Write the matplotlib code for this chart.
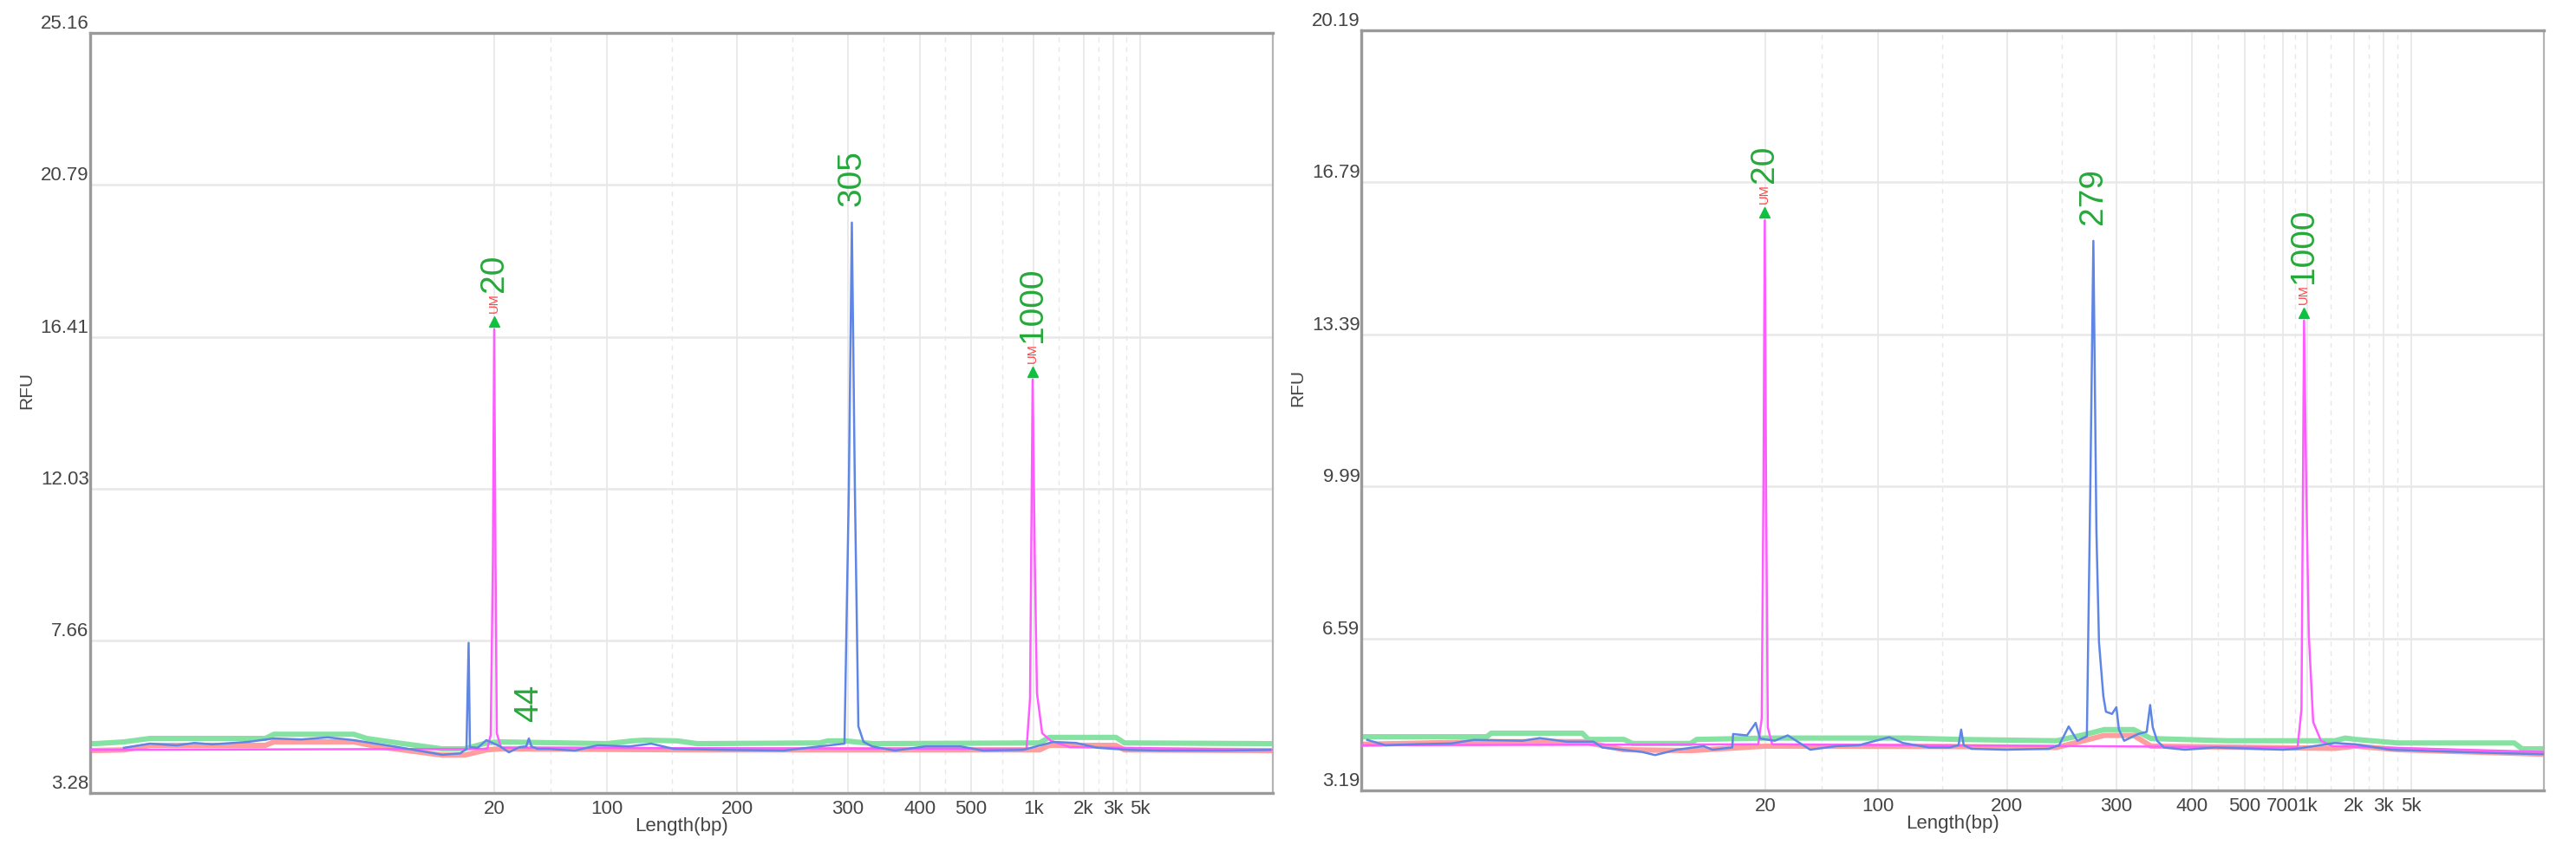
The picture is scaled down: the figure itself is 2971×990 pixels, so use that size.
#!/usr/bin/env python3
"""Capillary electropherograms (sample vs. marker), two runs side by side."""
import numpy as np
import matplotlib
matplotlib.use('Agg')
import matplotlib.pyplot as plt
from matplotlib.transforms import offset_copy

plt.rcParams['font.family'] = ['Liberation Sans', 'DejaVu Sans']

# ---- size ladder on the migration axis (scan units 0..1364) ----
L_tick_pos = [466, 596, 746, 874, 957, 1016, 1088, 1146, 1180, 1211]
L_tick_lab = ['20', '100', '200', '300', '400', '500', '1k', '2k', '3k', '5k']
R_tick_pos = [466, 596, 745, 871, 958, 1019, 1063, 1091, 1145, 1179, 1211]
R_tick_lab = ['20', '100', '200', '300', '400', '500', '700', '1k', '2k', '3k', '5k']

L_yticks = [3.28, 7.66, 12.03, 16.41, 20.79, 25.16]
R_yticks = [3.19, 6.59, 9.99, 13.39, 16.79, 20.19]

# ---- left run ----
L_green_x = [0, 6, 39, 69, 202, 212, 304, 319, 355, 406, 432, 457, 473, 596, 626,
             640, 677, 700, 841, 851, 871, 902, 1095, 1106, 1183, 1193, 1364]
L_green_y = [4.70, 4.70, 4.75, 4.85, 4.85, 4.97, 4.97, 4.85, 4.72, 4.55, 4.55, 4.72,
             4.75, 4.70, 4.78, 4.80, 4.78, 4.70, 4.72, 4.78, 4.78, 4.70, 4.72, 4.88,
             4.88, 4.72, 4.70]
L_red_x = [0, 39, 69, 202, 212, 304, 330, 406, 432, 457, 473, 700, 1095, 1106, 1183,
           1193, 1364]
L_red_y = [4.50, 4.52, 4.65, 4.65, 4.75, 4.75, 4.62, 4.37, 4.37, 4.52, 4.55, 4.52,
           4.52, 4.65, 4.65, 4.52, 4.50]
L_blue_x = [39, 69, 100, 120, 141, 182, 212, 243, 274, 304, 355, 406, 427, 434, 436.5,
            438, 447, 457, 473, 483, 495, 503, 506, 509, 516, 529, 559, 585, 622, 647,
            673, 734, 800, 841, 870, 875, 878.5, 882, 886, 892, 902, 928, 963, 1004,
            1030, 1076, 1111, 1137, 1162, 1198, 1234, 1310, 1361]
L_blue_y = [4.58, 4.70, 4.65, 4.72, 4.68, 4.75, 4.85, 4.82, 4.88, 4.80, 4.60, 4.38,
            4.42, 4.55, 7.60, 4.60, 4.58, 4.80, 4.62, 4.45, 4.60, 4.62, 4.85, 4.62,
            4.55, 4.55, 4.50, 4.65, 4.62, 4.70, 4.55, 4.52, 4.50, 4.62, 4.70, 12.0,
            19.70, 12.0, 5.20, 4.75, 4.62, 4.50, 4.62, 4.62, 4.50, 4.52, 4.75, 4.72,
            4.58, 4.52, 4.50, 4.50, 4.52]
L_pink_x = [0, 458, 462, 464.5, 466, 467.5, 469, 474, 1080, 1084, 1087, 1089.5,
            1092, 1098, 1108, 1130, 1364]
L_pink_y = [4.52, 4.55, 4.95, 10.0, 16.63, 10.0, 5.00, 4.58, 4.55, 6.0, 15.18, 10.0,
            6.15, 5.00, 4.78, 4.60, 4.52]
L_peak_x = [466, 878.5, 506, 1087]
L_peak_y = [16.63, 19.70, 4.85, 15.18]
L_peak_lab = ['20', '305', '44', '1000']
L_peak_marker = [True, False, False, True]

# ---- right run ----
R_green_x = [0, 145, 150, 255, 262, 303, 313, 380, 387, 466, 630, 690, 802, 837, 857,
             891, 911, 999, 1123, 1135, 1147, 1196, 1330, 1339, 1364]
R_green_y = [4.39, 4.39, 4.47, 4.47, 4.33, 4.33, 4.24, 4.24, 4.33, 4.36, 4.36, 4.33,
             4.30, 4.45, 4.55, 4.55, 4.35, 4.30, 4.30, 4.36, 4.33, 4.25, 4.25, 4.12,
             4.12]
R_red_x = [0, 150, 255, 303, 380, 466, 690, 802, 837, 857, 891, 911, 1123, 1147, 1196,
           1364]
R_red_y = [4.22, 4.28, 4.28, 4.10, 4.08, 4.18, 4.17, 4.15, 4.32, 4.42, 4.42, 4.18,
           4.13, 4.18, 4.10, 4.00]
R_blue_x = [7, 28, 58, 104, 130, 186, 206, 237, 268, 278, 324, 339, 364, 395, 405,
            428, 429, 445, 455, 460, 477, 492, 518, 548, 574, 609, 625, 655, 679, 689,
            692, 695, 704, 743, 793, 805, 816, 826, 837, 841, 844.5, 848, 851, 856, 859,
            866, 871, 874, 880, 896, 906, 910, 913, 918, 926, 950, 985, 1063, 1078,
            1123, 1147, 1187, 1265, 1320, 1364]
R_blue_y = [4.32, 4.20, 4.22, 4.24, 4.32, 4.30, 4.36, 4.28, 4.28, 4.15, 4.05, 3.98,
            4.10, 4.18, 4.10, 4.15, 4.45, 4.42, 4.70, 4.35, 4.30, 4.42, 4.10, 4.18,
            4.20, 4.38, 4.25, 4.15, 4.15, 4.20, 4.55, 4.20, 4.12, 4.10, 4.12, 4.20,
            4.62, 4.30, 4.40, 10.0, 15.48, 9.0, 6.50, 5.30, 4.95, 4.90, 5.05, 4.55,
            4.30, 4.45, 4.50, 5.10, 4.60, 4.30, 4.15, 4.10, 4.15, 4.10, 4.12, 4.25,
            4.22, 4.10, 4.05, 4.02, 4.00]
R_pink_x = [0, 458, 462, 464, 465.5, 467, 469, 474, 1080, 1084.5, 1087.5, 1090, 1093,
            1098, 1107, 1120, 1364]
R_pink_y = [4.20, 4.22, 4.80, 10.0, 15.94, 10.0, 4.60, 4.22, 4.15, 5.00, 13.70, 10.0,
            6.66, 4.72, 4.30, 4.18, 4.05]
R_peak_x = [465.5, 844.5, 1087.5]
R_peak_y = [15.94, 15.48, 13.70]
R_peak_lab = ['20', '279', '1000']
R_peak_marker = [True, False, True]

GREEN = '#86e2a2'
RED = '#ff9e9e'
BLUE = '#5f86e6'
PINK = '#ff5cff'
LABEL_GREEN = '#25a83a'
UM_RED = '#ff4545'
GRID = '#e8e8e8'
FRAME = '#9a9a9a'
TXT = '#444444'


def draw_panel(fig, rect, tick_pos, tick_lab, yticks, green, red, blue, pink, peaks):
    ax = fig.add_axes(rect)
    ax.set_xlim(0, 1364)
    ax.set_ylim(yticks[0], yticks[-1])

    # grid: solid at ladder sizes, dashed half-way between them
    for x in tick_pos:
        ax.axvline(x, color=GRID, lw=1.3, zorder=0)
    mids = (np.array(tick_pos[:-1]) + np.array(tick_pos[1:])) / 2
    for x in mids:
        ax.axvline(x, color=GRID, lw=1.0, ls=(0, (4, 4)), zorder=0)
    for y in yticks[1:-1]:
        ax.axhline(y, color=GRID, lw=1.8, zorder=0)

    ax.plot(green[0], green[1], color=GREEN, lw=4.4, zorder=2, solid_capstyle='butt')
    ax.plot(red[0], red[1], color=RED, lw=4.4, zorder=2, solid_capstyle='butt')
    ax.plot(pink[0], pink[1], color=PINK, lw=1.8, zorder=3)
    ax.plot(blue[0], blue[1], color=BLUE, lw=1.8, zorder=4)

    arrow_tr = offset_copy(ax.transData, fig=fig, x=0, y=9, units='dots')
    for x, y, lab, marker in zip(*peaks):
        if marker:
            ax.plot([x], [y], transform=arrow_tr, marker='^', ms=9, color='#10c040',
                    mec='#10c040', zorder=6, clip_on=False)
            ax.annotate('UM', (x, y), xytext=(0, 13.5), textcoords='offset points',
                        rotation=90, ha='center', va='bottom', fontsize=10.5,
                        color=UM_RED, zorder=6)
            off = 31
        else:
            off = 13.5
        ax.annotate(lab, (x, y), xytext=(0, off), textcoords='offset points',
                    rotation=90, ha='center', va='bottom', fontsize=28,
                    color=LABEL_GREEN, zorder=6)

    ax.set_xticks(tick_pos)
    ax.set_xticklabels(tick_lab, fontsize=16, color=TXT)
    ax.set_yticks(yticks)
    ax.set_yticklabels([f'{v:.2f}' for v in yticks], fontsize=16, color=TXT)
    for t in ax.get_yticklabels():
        t.set_va('bottom')
    ax.tick_params(axis='both', length=0)
    ax.tick_params(axis='x', pad=6)
    ax.tick_params(axis='y', pad=1)

    ax.set_xlabel('Length(bp)', fontsize=16, color=TXT, labelpad=-1)
    ax.set_ylabel('RFU', fontsize=15, color=TXT)
    ax.yaxis.set_label_coords(-0.047, 0.53)

    for side in ['left', 'top', 'bottom']:
        ax.spines[side].set_color(FRAME)
        ax.spines[side].set_linewidth(2.4)
    ax.spines['right'].set_color('#b4b4b4')
    ax.spines['right'].set_linewidth(1.6)
    return ax


def main():
    fig = plt.figure(figsize=(29.71, 9.90), dpi=100)
    draw_panel(fig, [0.0350, 0.0758, 0.4591, 0.8859], L_tick_pos, L_tick_lab, L_yticks,
               (L_green_x, L_green_y), (L_red_x, L_red_y), (L_blue_x, L_blue_y),
               (L_pink_x, L_pink_y), (L_peak_x, L_peak_y, L_peak_lab, L_peak_marker))
    draw_panel(fig, [0.5284, 0.0788, 0.4591, 0.8859], R_tick_pos, R_tick_lab, R_yticks,
               (R_green_x, R_green_y), (R_red_x, R_red_y), (R_blue_x, R_blue_y),
               (R_pink_x, R_pink_y), (R_peak_x, R_peak_y, R_peak_lab, R_peak_marker))
    fig.savefig('out.png', dpi=100, facecolor='white')
    plt.close(fig)


if __name__ == '__main__':
    main()
